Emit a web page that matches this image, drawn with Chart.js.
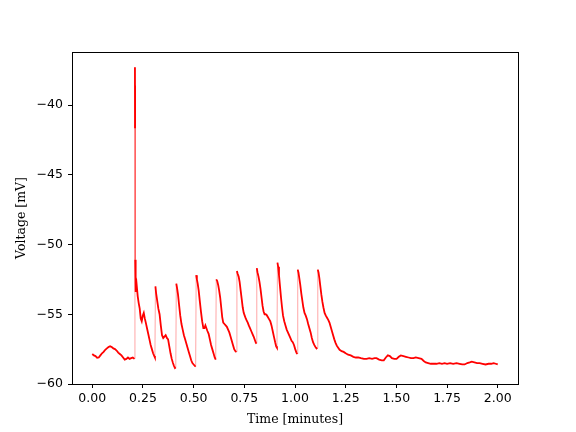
<!DOCTYPE html>
<html>
<head>
<meta charset="utf-8">
<script src="https://cdn.jsdelivr.net/npm/chart.js@4/dist/chart.umd.min.js"></script>
<style>
  html, body { margin: 0; padding: 0; background: #fff; }
  canvas { display: block; }
</style>
</head>
<body>
<canvas id="voltageChart" width="576" height="432"></canvas>
<script>
// tick labels
var xTicks = [0, 0.25, 0.5, 0.75, 1.0, 1.25, 1.5, 1.75, 2.0];
var yTicks = [-60, -55, -50, -45, -40];

// trace: time (minutes) and voltage (mV)
var timeMin = [
    0.000, 0.008, 0.016, 0.024, 0.032, 0.040, 0.048, 0.056, 0.064, 0.072,
    0.080, 0.088, 0.096, 0.104, 0.112, 0.120, 0.128, 0.136, 0.144, 0.152,
    0.160, 0.168, 0.176, 0.184, 0.192, 0.200, 0.208,
    0.2105, 0.2108, 0.2111, 0.2114, 0.2117,
    0.214, 0.219, 0.224, 0.229, 0.234, 0.239, 0.244, 0.249, 0.254, 0.259,
    0.264, 0.270, 0.276, 0.282, 0.288, 0.294, 0.300, 0.306, 0.309,
    0.3115, 0.315, 0.320, 0.326, 0.332, 0.338, 0.344, 0.350, 0.356, 0.362,
    0.368, 0.374, 0.380, 0.386, 0.392, 0.398, 0.403, 0.408, 0.412,
    0.4145, 0.418, 0.423, 0.428, 0.434, 0.440, 0.446, 0.452, 0.458, 0.464,
    0.470, 0.476, 0.482, 0.488, 0.494, 0.500, 0.506, 0.510,
    0.5125, 0.516, 0.520, 0.525, 0.530, 0.536, 0.542, 0.548, 0.553, 0.558,
    0.563, 0.568, 0.574, 0.580, 0.586, 0.592, 0.598, 0.604, 0.609,
    0.6115, 0.616, 0.621, 0.626, 0.631, 0.636, 0.641, 0.646, 0.652, 0.658,
    0.664, 0.670, 0.676, 0.682, 0.688, 0.694, 0.700, 0.706, 0.711,
    0.7135, 0.717, 0.722, 0.727, 0.732, 0.737, 0.742, 0.747, 0.752, 0.757,
    0.762, 0.767, 0.772, 0.778, 0.784, 0.790, 0.796, 0.802, 0.807, 0.810,
    0.8115, 0.815, 0.820, 0.825, 0.830, 0.835, 0.840, 0.845, 0.850, 0.855,
    0.860, 0.866, 0.872, 0.878, 0.884, 0.890, 0.896, 0.902, 0.907, 0.911,
    0.9135, 0.917, 0.921, 0.926, 0.931, 0.936, 0.941, 0.947, 0.953, 0.959,
    0.965, 0.971, 0.977, 0.983, 0.989, 0.995, 1.001, 1.007, 1.011,
    1.0135, 1.017, 1.021, 1.026, 1.031, 1.036, 1.041, 1.047, 1.053, 1.059,
    1.065, 1.071, 1.077, 1.083, 1.089, 1.095, 1.101, 1.106, 1.110,
    1.1125, 1.116, 1.120, 1.125, 1.130, 1.135, 1.140, 1.146, 1.152, 1.158,
    1.164, 1.170, 1.176, 1.182, 1.188, 1.194, 1.200, 1.206, 1.213, 1.220,
    1.230, 1.240, 1.250, 1.262, 1.275, 1.288, 1.300, 1.312, 1.325,
    1.340, 1.353, 1.366, 1.380, 1.393, 1.402, 1.415, 1.428, 1.438, 1.448,
    1.458, 1.468, 1.478, 1.490, 1.501, 1.512, 1.522, 1.535, 1.547, 1.560,
    1.572, 1.584, 1.596, 1.610, 1.624, 1.635, 1.645, 1.657, 1.670, 1.685,
    1.698, 1.712, 1.725, 1.738, 1.750, 1.765, 1.780, 1.797, 1.812, 1.825,
    1.837, 1.850, 1.862, 1.872, 1.885, 1.898, 1.911, 1.925, 1.940, 1.955,
    1.968, 1.980, 1.990, 2.000
];
var voltageMv = [
    -57.85, -57.95, -58.00, -58.12, -58.10, -57.95, -57.80, -57.70, -57.55, -57.45,
    -57.35, -57.30, -57.35, -57.45, -57.50, -57.60, -57.75, -57.85, -57.95, -58.10,
    -58.25, -58.20, -58.10, -58.20, -58.15, -58.10, -58.20,
    -37.30, -41.60, -38.60, -41.40, -51.10,
    -53.40, -52.90, -53.70, -54.20, -54.60, -55.30, -55.50, -55.10, -54.90, -55.30,
    -55.60, -56.00, -56.40, -56.80, -57.20, -57.50, -57.80, -58.00, -58.10,
    -53.00, -53.50, -54.00, -54.60, -55.00, -55.80, -56.50, -56.70, -56.60, -56.50,
    -56.70, -56.80, -57.30, -57.80, -58.20, -58.50, -58.70, -58.85, -58.80,
    -52.80, -53.10, -53.60, -54.30, -55.10, -55.70, -56.10, -56.50, -56.80, -57.10,
    -57.40, -57.70, -58.00, -58.30, -58.50, -58.60, -58.70, -58.75,
    -52.20, -52.50, -52.80, -53.30, -54.00, -54.80, -55.50, -56.00, -56.00, -55.80,
    -56.00, -56.20, -56.40, -56.80, -57.20, -57.50, -57.80, -58.10, -58.25,
    -52.50, -52.60, -52.90, -53.30, -53.80, -54.50, -55.20, -55.60, -55.70, -55.80,
    -55.90, -56.10, -56.30, -56.60, -56.90, -57.20, -57.50, -57.65, -57.70,
    -51.90, -52.10, -52.30, -52.70, -53.30, -53.90, -54.50, -54.90, -55.10, -55.30,
    -55.45, -55.60, -55.80, -56.00, -56.20, -56.40, -56.60, -56.85, -57.05, -57.10,
    -51.70, -52.00, -52.30, -52.70, -53.20, -53.80, -54.40, -54.80, -55.00, -55.00,
    -55.05, -55.20, -55.35, -55.50, -55.80, -56.20, -56.60, -57.00, -57.30, -57.40,
    -51.30, -51.60, -52.20, -53.00, -53.80, -54.50, -55.10, -55.50, -55.80, -56.10,
    -56.30, -56.50, -56.70, -56.90, -57.00, -57.20, -57.50, -57.75, -57.85,
    -51.80, -52.00, -52.40, -52.90, -53.50, -54.00, -54.50, -54.90, -55.10, -55.35,
    -55.70, -56.00, -56.30, -56.70, -57.00, -57.20, -57.35, -57.45, -57.40,
    -51.80, -52.00, -52.40, -53.00, -53.60, -54.10, -54.50, -54.90, -55.10, -55.25,
    -55.40, -55.60, -55.90, -56.20, -56.50, -56.80, -57.05, -57.25, -57.40, -57.55,
    -57.65, -57.70, -57.80, -57.90, -57.95, -58.05, -58.10, -58.10, -58.15,
    -58.20, -58.20, -58.15, -58.20, -58.15, -58.15, -58.25, -58.30, -58.30, -58.10,
    -57.95, -58.00, -58.15, -58.20, -58.20, -58.05, -57.95, -58.00, -58.05, -58.10,
    -58.15, -58.15, -58.10, -58.15, -58.20, -58.35, -58.45, -58.50, -58.55, -58.55,
    -58.55, -58.50, -58.55, -58.50, -58.55, -58.50, -58.55, -58.50, -58.55, -58.60,
    -58.60, -58.50, -58.45, -58.40, -58.45, -58.50, -58.50, -58.55, -58.60, -58.55,
    -58.55, -58.50, -58.55, -58.60
];

var points = timeMin.map(function (t, i) {
    return { x: t, y: voltageMv[i] };
});

// draws the box around the plot area
var frameBox = {
    id: 'frameBox',
    afterDraw: function (chart) {
        var a = chart.chartArea;
        var ctx = chart.ctx;
        ctx.save();
        ctx.strokeStyle = '#000';
        ctx.lineWidth = 1;
        ctx.strokeRect(Math.round(a.left) + 0.5, Math.round(a.top) + 0.5,
            Math.round(a.right - a.left), Math.round(a.bottom - a.top));
        ctx.restore();
    }
};

var ctx = document.getElementById('voltageChart').getContext('2d');
new Chart(ctx, {
    type: 'line',
    data: {
        datasets: [{
            data: points,
            borderColor: 'rgb(255,0,0)',
            borderWidth: 1.8,
            pointRadius: 0,
            tension: 0,
            segment: {
                // the fast upstrokes show up pale and thin
                borderColor: function (c) {
                    return Math.abs(c.p1.parsed.y - c.p0.parsed.y) > 4.5 ? 'rgba(255,0,0,0.35)' : undefined;
                },
                borderWidth: function (c) {
                    return Math.abs(c.p1.parsed.y - c.p0.parsed.y) > 4.5 ? 1 : undefined;
                }
            }
        }]
    },
    options: {
        responsive: false,
        animation: false,
        layout: { padding: { top: 52, right: 58, left: 0, bottom: 0 } },
        plugins: {
            legend: { display: false },
            tooltip: { enabled: false }
        },
        scales: {
            x: {
                type: 'linear',
                min: -0.1,
                max: 2.1,
                afterBuildTicks: function (scale) {
                    scale.ticks = xTicks.map(function (v) { return { value: v }; });
                },
                afterFit: function (scale) { scale.height = 48; },
                grid: { drawOnChartArea: false, drawTicks: true, tickLength: 4, tickColor: '#000' },
                border: { display: true, color: '#000', width: 1 },
                ticks: {
                    color: '#000',
                    padding: 3,
                    maxRotation: 0,
                    font: { family: 'DejaVu Sans', size: 12.5 },
                    callback: function (v) { return v.toFixed(2); }
                },
                title: {
                    display: true,
                    text: 'Time [minutes]',
                    color: '#000',
                    font: { family: 'DejaVu Serif', size: 12.5 },
                    padding: { top: 0, bottom: 5 }
                }
            },
            y: {
                min: -60,
                max: -36.2,
                afterBuildTicks: function (scale) {
                    scale.ticks = yTicks.map(function (v) { return { value: v }; });
                },
                afterFit: function (scale) { scale.width = 72; },
                grid: { drawOnChartArea: false, drawTicks: true, tickLength: 4, tickColor: '#000' },
                border: { display: true, color: '#000', width: 1 },
                ticks: {
                    color: '#000',
                    padding: 5,
                    font: { family: 'DejaVu Sans', size: 12.5 },
                    callback: function (v) { return '\u2212' + Math.abs(v); }
                },
                title: {
                    display: true,
                    text: 'Voltage [mV]',
                    color: '#000',
                    font: { family: 'DejaVu Serif', size: 12.5 },
                    padding: { top: 14, bottom: 0 }
                }
            }
        }
    },
    plugins: [frameBox]
});
</script>
</body>
</html>
